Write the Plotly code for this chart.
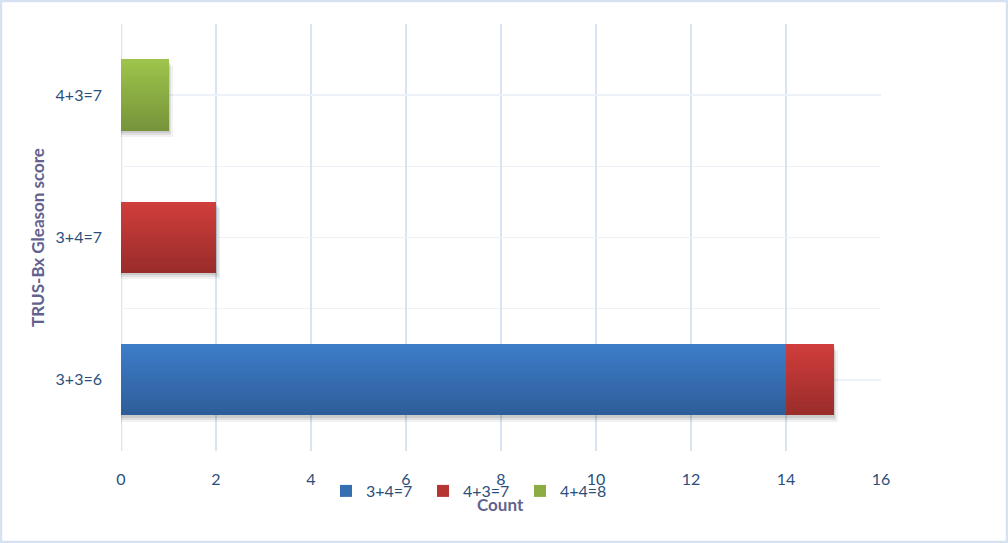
import plotly.graph_objects as go

categories = ["3+3=6", "3+4=7", "4+3=7"]
series_names = ["3+4=7", "4+3=7", "4+4=8"]
blue_vals = [14, 0, 0]
red_vals = [1, 2, 0]
green_vals = [0, 0, 1]
x_ticks = [0, 2, 4, 6, 8, 10, 12, 14, 16]

series_vals = [blue_vals, red_vals, green_vals]
top_cols = [(61, 125, 202), (208, 62, 60), (158, 197, 76)]
bot_cols = [(46, 93, 152), (153, 44, 42), (118, 147, 58)]

W, H = 1008, 543
ML, MR, MT, MB = 121, 127, 24, 92
PW, PH = W - ML - MR, H - MT - MB
ypos = list(range(len(categories)))
BAR_W = 0.5
N = 24

fig = go.Figure()

# subtle drop shadow behind bars
totals = [sum(v[i] for v in series_vals) for i in range(len(categories))]
for dy, dx, a in [(0.045, 0.09, 0.05), (0.03, 0.06, 0.07), (0.015, 0.03, 0.09)]:
    fig.add_trace(go.Bar(
        y=ypos, x=[t + dx if t > 0 else 0 for t in totals], base=0, orientation="h",
        width=BAR_W, offset=-BAR_W / 2 - dy,
        marker=dict(color=f"rgba(0,0,0,{a})", line=dict(width=0)),
        showlegend=False, hoverinfo="skip"))

# stacked bars with vertical gradient (thin slices of the same bar)
base = [0] * len(categories)
for s, vals in enumerate(series_vals):
    for i in range(N):
        t = (i + 0.5) / N  # 0 bottom -> 1 top
        c = [int(round(bot_cols[s][j] + (top_cols[s][j] - bot_cols[s][j]) * t)) for j in range(3)]
        fig.add_trace(go.Bar(
            y=ypos, x=vals, base=base, orientation="h",
            width=BAR_W / N + 0.002, offset=-BAR_W / 2 + i * BAR_W / N,
            marker=dict(color=f"rgb({c[0]},{c[1]},{c[2]})", line=dict(width=0)),
            name=series_names[s], legendgroup=series_names[s],
            showlegend=(i == N // 2), hoverinfo="skip"))
    base = [b + v for b, v in zip(base, vals)]

FONT = "Lato, Calibri, sans-serif"
tick_font = dict(family=FONT, size=16, color="#2b4f7c")
title_col = "#62628f"

fig.update_layout(
    width=W, height=H,
    margin=dict(l=ML, r=MR, t=MT, b=MB, autoexpand=False),
    paper_bgcolor="white", plot_bgcolor="white",
    barmode="overlay", bargap=0,
    font=tick_font,
    xaxis=dict(range=[0, 16], tickvals=x_ticks, showgrid=True, gridcolor="#d8e4f2", gridwidth=1.5,
               zeroline=False, showline=False, ticks="", tickfont=tick_font, ticklabelstandoff=17,
               fixedrange=True, automargin=False),
    yaxis=dict(range=[-0.5, 2.5], tickvals=ypos, ticktext=categories, showgrid=True,
               gridcolor="#edf2f8", gridwidth=1.5, zeroline=False, showline=False, ticks="",
               tickfont=tick_font, ticklabelstandoff=18, automargin=False, fixedrange=True,
               minor=dict(dtick=0.5, tick0=-0.5, showgrid=True, gridcolor="#edf2f8", gridwidth=1.5),
               title=dict(text="<b>TRUS-Bx Gleason score</b>",
                          font=dict(family=FONT, size=17, color=title_col), standoff=6)),
    legend=dict(orientation="h", x=(326 - ML) / PW, xanchor="left",
                y=(H - MB - 491) / PH, yanchor="middle",
                font=dict(family=FONT, size=16, color="#2b4f7c"),
                itemwidth=30, entrywidth=52, entrywidthmode="pixels",
                bgcolor="rgba(0,0,0,0)", traceorder="normal"),
    annotations=[dict(text="<b>Count</b>", xref="paper", yref="paper",
                      x=(500 - ML) / PW, y=(H - MB - 505) / PH,
                      showarrow=False, xanchor="center", yanchor="middle",
                      font=dict(family=FONT, size=17, color=title_col))],
    shapes=[
        dict(type="line", xref="x", yref="paper", x0=0, x1=0, y0=0, y1=1,
             line=dict(color="#d8e4f2", width=2.5), layer="below"),
        dict(type="rect", xref="paper", yref="paper",
             x0=-(ML - 1) / PW, x1=1 + (MR - 1) / PW,
             y0=-(MB - 1) / PH, y1=1 + (MT - 1) / PH,
             line=dict(color="#d6e2f2", width=2.5), fillcolor="rgba(0,0,0,0)", layer="above"),
    ],
)

fig.write_html("out.html", config={"displayModeBar": False, "staticPlot": True},
               post_script="document.body.style.margin='0';document.body.style.overflow='hidden';")
